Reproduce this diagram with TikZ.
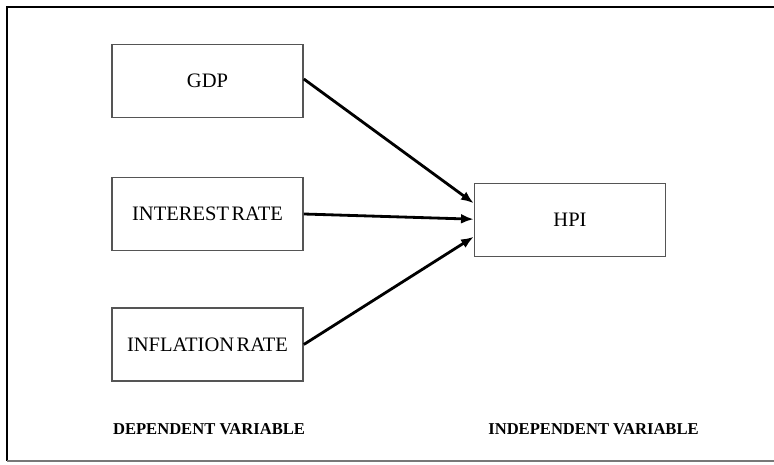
\documentclass[tikz,border=0pt]{standalone}
\usepackage{fontspec}
\setmainfont{Liberation Serif}
\usetikzlibrary{arrows.meta, calc, positioning}
\definecolor{frameGray}{RGB}{120, 120, 120}
\definecolor{boxGray}{RGB}{85, 85, 85}

\begin{document}
\begin{tikzpicture}[
    x=0.025cm, y=-0.025cm,
    varbox/.style={rectangle, draw=boxGray, line width=1.1pt,
      minimum width=4.775cm, minimum height=1.825cm, text centered,
      font=\fontsize{14.6}{17}\selectfont, inner sep=0pt},
    caption/.style={font=\fontsize{11.8}{14}\selectfont\bfseries, inner sep=0pt},
    arrow/.style={-{Latex[length=9pt, width=7pt]}, line width=2pt, black},
  ]
    \useasboundingbox (0,0) rectangle (774,465);

    % outer frame (right side runs off the picture)
    \draw[line width=1.6pt, black] (774,7) -- (7,7) -- (7,461);
    \draw[line width=1.8pt, frameGray] (7,461) -- (774,461);

    \node[varbox] (gdp) at (207.5,81) {GDP};
    \node[varbox] (interest) at (207.5,214) {INTEREST\hspace{0.12em}RATE};
    \node[varbox] (inflation) at (207.5,344.5) {INFLATION\hspace{0.12em}RATE};
    \node[varbox] (hpi) at (570,220) {HPI};

    \node[caption] (dep) at (209,429) {DEPENDENT VARIABLE};
    \node[caption] (indep) at (593.5,429) {INDEPENDENT VARIABLE};

    \draw[arrow] ([yshift=0.05cm]gdp.east) -- ([yshift=0.42cm]hpi.west);
    \draw[arrow] (interest.east) -- ([yshift=0.02cm]hpi.west);
    \draw[arrow] (inflation.east) -- ([yshift=-0.42cm]hpi.west);
  \end{tikzpicture}
\end{document}
